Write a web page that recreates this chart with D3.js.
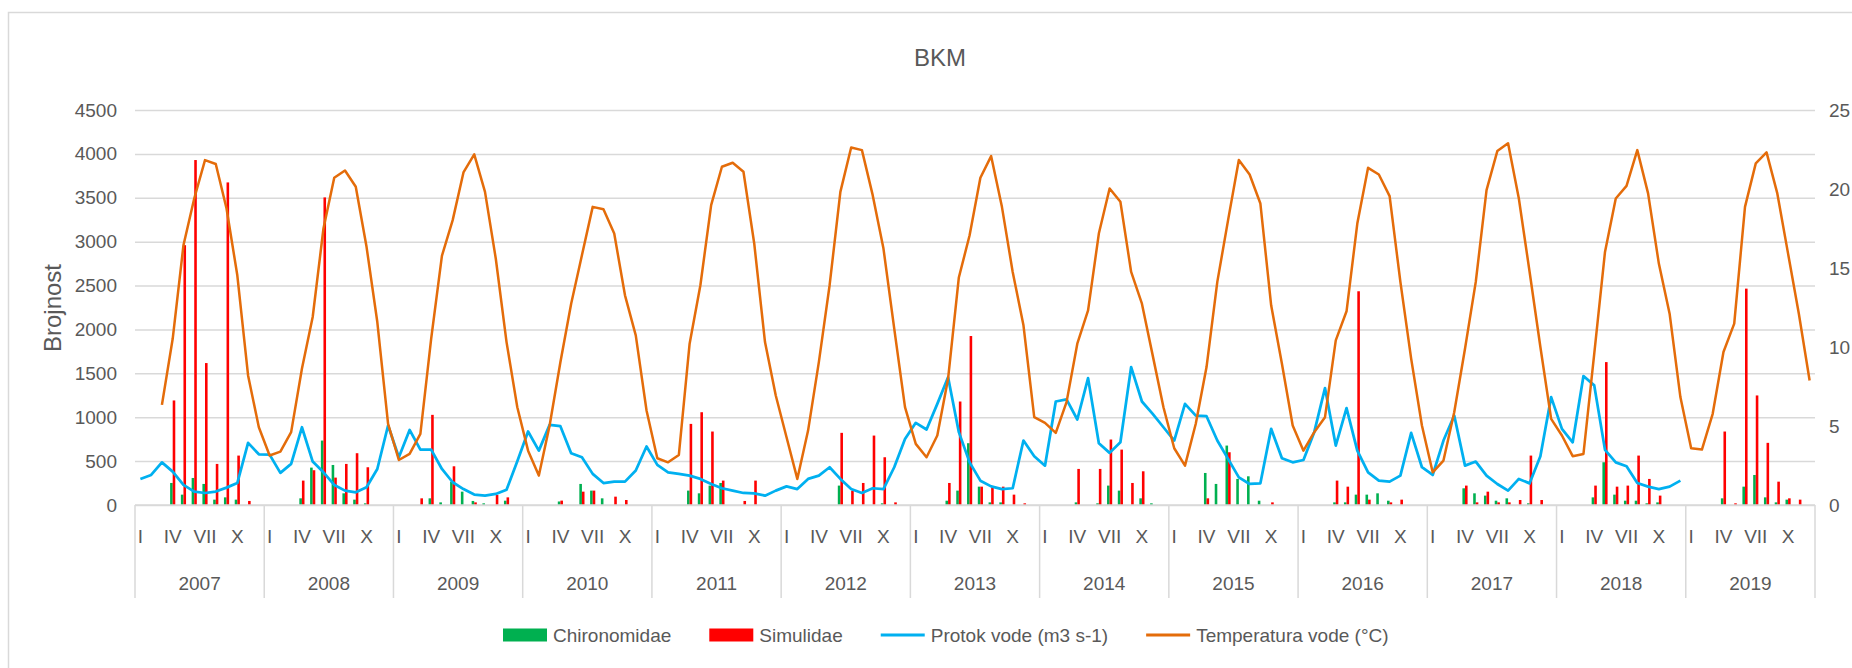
<!DOCTYPE html>
<html>
<head>
<meta charset="utf-8">
<script src="https://cdn.jsdelivr.net/npm/d3@7"></script>
<style>
  body { margin: 0; background: #fff; }
  svg { display: block; font-family: "Liberation Sans", Arial, sans-serif; }
  .axis text { fill: #595959; font-size: 19px; }
  .grid line { stroke: #d9d9d9; stroke-width: 1.5px; }
</style>
</head>
<body>
<svg id="chart" width="1852" height="668"></svg>
<script>
// godine i oznake mjeseci
var years = [2007, 2008, 2009, 2010, 2011, 2012, 2013, 2014, 2015, 2016, 2017, 2018, 2019];
var monthLabels = ["I", "II", "III", "IV", "V", "VI", "VII", "VIII", "IX", "X", "XI", "XII"];
var leftTicks = [0, 500, 1000, 1500, 2000, 2500, 3000, 3500, 4000, 4500];
var rightTicks = [0, 5, 10, 15, 20, 25];

// brojnost po mjesecima (I - XII), godina po red
var chironomidae = [
  0, 0, 0, 251, 118, 308, 240, 61, 87, 61, 0, 0,
  0, 0, 0, 76, 426, 734, 456, 133, 61, 19, 0, 0,
  0, 0, 0, 76, 30, 266, 152, 46, 19, 0, 49, 0,
  0, 0, 0, 40, 0, 240, 164, 76, 0, 0, 0, 0,
  0, 0, 0, 164, 133, 221, 251, 0, 0, 0, 0, 0,
  0, 0, 0, 0, 0, 221, 0, 0, 0, 19, 0, 0,
  0, 0, 0, 49, 164, 704, 209, 30, 30, 0, 0, 0,
  0, 0, 0, 30, 0, 19, 221, 164, 0, 76, 19, 0,
  0, 0, 0, 365, 240, 677, 297, 327, 49, 0, 0, 0,
  0, 0, 0, 30, 30, 118, 118, 133, 49, 0, 0, 0,
  0, 0, 0, 190, 133, 107, 49, 76, 0, 19, 0, 0,
  0, 0, 0, 87, 487, 118, 49, 49, 19, 30, 0, 0,
  0, 0, 0, 76, 0, 209, 342, 87, 30, 61, 0, 0
];

var simulidae = [
  0, 0, 0, 1191, 2960, 3930, 1617, 468, 3675, 563, 46, 0,
  0, 0, 0, 278, 396, 3504, 312, 468, 590, 430, 0, 0,
  0, 0, 76, 1027, 0, 441, 0, 30, 0, 114, 87, 0,
  0, 0, 0, 50, 0, 152, 164, 0, 95, 57, 0, 0,
  0, 0, 0, 924, 1057, 837, 278, 0, 46, 278, 0, 0,
  0, 0, 0, 0, 0, 822, 164, 251, 791, 544, 30, 0,
  0, 0, 0, 251, 1179, 1925, 209, 202, 209, 118, 19, 0,
  0, 0, 0, 411, 0, 411, 746, 631, 251, 384, 0, 0,
  0, 0, 0, 76, 0, 601, 0, 0, 0, 30, 0, 0,
  0, 0, 0, 278, 209, 2435, 61, 0, 30, 61, 0, 0,
  0, 0, 0, 221, 30, 152, 30, 30, 57, 563, 57, 0,
  0, 0, 0, 221, 1628, 209, 221, 563, 297, 107, 0, 0,
  0, 0, 0, 837, 19, 2465, 1248, 708, 266, 76, 61, 0
];

// protok vode (m3 s-1)
var protok = [
  1.65, 1.90, 2.70, 2.11, 1.27, 0.85, 0.76, 0.85, 1.10, 1.39, 3.93, 3.21,
  3.19, 2.03, 2.60, 4.92, 2.75, 2.07, 1.27, 0.91, 0.80, 1.12, 2.28, 5.03,
  3.02, 4.75, 3.51, 3.51, 2.28, 1.44, 1.01, 0.66, 0.59, 0.70, 0.97, 2.77,
  4.65, 3.44, 5.07, 4.99, 3.28, 3.02, 1.97, 1.39, 1.48, 1.48, 2.18, 3.70,
  2.54, 2.07, 1.97, 1.86, 1.65, 1.33, 1.06, 0.91, 0.76, 0.74, 0.59, 0.91,
  1.18, 1.01, 1.65, 1.86, 2.39, 1.65, 1.01, 0.76, 1.06, 1.01, 2.39, 4.18,
  5.20, 4.78, 6.40, 8.09, 4.61, 2.70, 1.54, 1.18, 1.01, 1.06, 4.08, 3.09,
  2.49, 6.55, 6.68, 5.41, 8.03, 3.91, 3.30, 3.97, 8.73, 6.55, 5.77, 4.92,
  4.08, 6.40, 5.66, 5.62, 4.08, 2.92, 1.75, 1.33, 1.37, 4.82, 2.96, 2.70,
  2.85, 4.61, 7.40, 3.76, 6.13, 3.44, 2.07, 1.54, 1.48, 1.86, 4.56, 2.39,
  1.90, 4.08, 5.66, 2.49, 2.75, 1.86, 1.33, 0.91, 1.65, 1.37, 3.09, 6.83,
  4.82, 3.97, 8.16, 7.57, 3.49, 2.70, 2.45, 1.39, 1.16, 1.01, 1.16, 1.54,
  null, null, null, null, null, null, null, null, null, null, null, null
];

// temperatura vode (°C)
var temperatura = [
  null, null, 6.34, 10.52, 16.44, 19.40, 21.83, 21.58, 18.77, 14.54, 8.20, 4.92,
  3.13, 3.38, 4.61, 8.62, 11.90, 17.50, 20.71, 21.17, 20.14, 16.34, 11.58, 5.14,
  2.85, 3.23, 4.50, 10.52, 15.77, 18.03, 21.05, 22.19, 19.82, 15.60, 10.31, 6.19,
  3.44, 1.86, 5.03, 9.04, 12.74, 15.81, 18.87, 18.72, 17.18, 13.27, 10.74, 5.98,
  2.96, 2.70, 3.17, 10.21, 13.91, 18.98, 21.41, 21.66, 21.09, 16.55, 10.31, 6.93,
  4.29, 1.65, 4.71, 9.04, 13.91, 19.82, 22.63, 22.46, 19.61, 16.23, 11.16, 6.19,
  3.87, 3.02, 4.40, 7.99, 14.40, 17.07, 20.71, 22.08, 18.87, 14.75, 11.37, 5.56,
  5.20, 4.56, 6.51, 10.21, 12.32, 17.18, 20.03, 19.19, 14.75, 12.74, 9.47, 6.19,
  3.59, 2.49, 5.14, 8.73, 14.12, 18.03, 21.83, 20.92, 19.08, 12.64, 8.94, 5.03,
  3.44, 4.61, 5.56, 10.42, 12.26, 17.81, 21.34, 20.92, 19.55, 14.12, 9.26, 5.03,
  2.07, 2.81, 5.87, 9.89, 14.12, 19.93, 22.40, 22.89, 19.40, 14.75, 10.00, 5.45,
  4.40, 3.09, 3.23, 9.57, 16.02, 19.40, 20.20, 22.46, 19.72, 15.28, 12.11, 6.83,
  3.59, 3.51, 5.77, 9.68, 11.48, 18.87, 21.62, 22.32, 19.72, 15.91, 12.11, 7.88
];

var series = [
  {name: "Chironomidae", color: "#00B050", type: "bar"},
  {name: "Simulidae", color: "#FF0000", type: "bar"},
  {name: "Protok vode (m3 s-1)", color: "#00B0F0", type: "line"},
  {name: "Temperatura vode (°C)", color: "#E46C0A", type: "line"}
];

var svg = d3.select("#chart"),
    margin = {top: 110, right: 37, bottom: 163, left: 135},
    width = +svg.attr("width") - margin.left - margin.right,
    height = +svg.attr("height") - margin.top - margin.bottom;

// okvir grafikona
svg.append("rect")
    .attr("x", 8.5)
    .attr("y", 12.5)
    .attr("width", 1900)
    .attr("height", 700)
    .attr("fill", "none")
    .attr("stroke", "#d9d9d9")
    .attr("stroke-width", 1.5);

svg.append("text")
    .attr("x", 940)
    .attr("y", 66)
    .attr("text-anchor", "middle")
    .attr("fill", "#595959")
    .style("font-size", "24px")
    .text("BKM");

var keys = [];
years.forEach(function(y) {
  monthLabels.forEach(function(m, i) { keys.push(y + "-" + i); });
});

var rows = keys.map(function(k, i) {
  return {key: k, month: i % 12, chir: chironomidae[i], simu: simulidae[i],
          flow: protok[i], temp: temperatura[i]};
});

var x = d3.scaleBand().domain(keys).range([0, width])
    .paddingInner(0.52).paddingOuter(0.26);
var xSub = d3.scaleBand().domain(["chir", "simu"]).range([0, x.bandwidth()]);
var xYear = d3.scaleBand().domain(years).range([0, width]);

var yLeft = d3.scaleLinear().domain([0, 4500]).range([height, 0]);
var yRight = d3.scaleLinear().domain([0, 25]).range([height, 0]);

var g = svg.append("g")
    .attr("transform", "translate(" + margin.left + "," + margin.top + ")");

// mreza
g.append("g")
    .attr("class", "grid")
    .call(d3.axisLeft(yLeft).tickValues(leftTicks).tickSize(-width).tickFormat(""))
    .call(function(s) { s.select(".domain").remove(); });

// lijeva os
g.append("g")
    .attr("class", "axis")
    .call(d3.axisLeft(yLeft).tickValues(leftTicks).tickSize(0).tickPadding(18)
      .tickFormat(d3.format("d")))
    .call(function(s) { s.select(".domain").remove(); });

// desna os
g.append("g")
    .attr("class", "axis")
    .attr("transform", "translate(" + width + ",0)")
    .call(d3.axisRight(yRight).tickValues(rightTicks).tickSize(0).tickPadding(14)
      .tickFormat(d3.format("d")))
    .call(function(s) { s.select(".domain").remove(); });

g.append("text")
    .attr("transform", "translate(" + (53 - margin.left) + "," + (308 - margin.top) + ") rotate(-90)")
    .attr("text-anchor", "middle")
    .attr("dy", "0.35em")
    .attr("fill", "#595959")
    .style("font-size", "24px")
    .text("Brojnost");

// stupci
var bars = g.append("g");
bars.selectAll("rect.chir")
    .data(rows.filter(function(d) { return d.chir > 0; }))
  .enter().append("rect")
    .attr("class", "chir")
    .attr("x", function(d) { return x(d.key) + xSub("chir"); })
    .attr("y", function(d) { return yLeft(d.chir); })
    .attr("width", xSub.bandwidth())
    .attr("height", function(d) { return height - yLeft(d.chir); })
    .attr("fill", series[0].color);

bars.selectAll("rect.simu")
    .data(rows.filter(function(d) { return d.simu > 0; }))
  .enter().append("rect")
    .attr("class", "simu")
    .attr("x", function(d) { return x(d.key) + xSub("simu"); })
    .attr("y", function(d) { return yLeft(d.simu); })
    .attr("width", xSub.bandwidth())
    .attr("height", function(d) { return height - yLeft(d.simu); })
    .attr("fill", series[1].color);

// x os: mjeseci i godine
var xAxisG = g.append("g")
    .attr("class", "axis")
    .attr("transform", "translate(0," + height + ")");

xAxisG.append("line")
    .attr("x1", 0)
    .attr("x2", width)
    .attr("stroke", "#d9d9d9")
    .attr("stroke-width", 1.5);

xAxisG.append("g")
    .call(d3.axisBottom(x)
      .tickValues(keys.filter(function(k, i) { return i % 3 === 0; }))
      .tickFormat(function(k) { return monthLabels[+k.split("-")[1]]; })
      .tickSize(0).tickPadding(25))
    .call(function(s) { s.select(".domain").remove(); });

xAxisG.append("g")
    .call(d3.axisBottom(xYear).tickSize(0).tickPadding(72))
    .call(function(s) { s.select(".domain").remove(); });

xAxisG.selectAll("line.sep")
    .data(years.concat(["end"]))
  .enter().append("line")
    .attr("class", "sep")
    .attr("x1", function(d) { return d === "end" ? width : xYear(d); })
    .attr("x2", function(d) { return d === "end" ? width : xYear(d); })
    .attr("y1", 0)
    .attr("y2", 93)
    .attr("stroke", "#d9d9d9")
    .attr("stroke-width", 1.5);

// linije
var flowLine = d3.line()
    .defined(function(d) { return d.flow != null; })
    .x(function(d) { return x(d.key) + x.bandwidth() / 2; })
    .y(function(d) { return yRight(d.flow); });

var tempLine = d3.line()
    .defined(function(d) { return d.temp != null; })
    .x(function(d) { return x(d.key) + x.bandwidth() / 2; })
    .y(function(d) { return yRight(d.temp); });

g.append("path")
    .datum(rows)
    .attr("fill", "none")
    .attr("stroke", series[2].color)
    .attr("stroke-width", 2.75)
    .attr("stroke-linejoin", "round")
    .attr("d", flowLine);

g.append("path")
    .datum(rows)
    .attr("fill", "none")
    .attr("stroke", series[3].color)
    .attr("stroke-width", 2.5)
    .attr("stroke-linejoin", "round")
    .attr("d", tempLine);

// legenda
var legend = svg.append("g")
    .attr("transform", "translate(503,635)");

var lx = 0;
series.forEach(function(s) {
  var item = legend.append("g").attr("transform", "translate(" + lx + ",0)");
  if (s.type === "bar") {
    item.append("rect")
        .attr("x", 0).attr("y", -6.5)
        .attr("width", 44).attr("height", 13)
        .attr("fill", s.color);
  } else {
    item.append("line")
        .attr("x1", 0).attr("x2", 44)
        .attr("stroke", s.color)
        .attr("stroke-width", 3);
  }
  var t = item.append("text")
      .attr("x", 50)
      .attr("dy", "0.35em")
      .attr("fill", "#595959")
      .style("font-size", "19px")
      .text(s.name);
  lx += 50 + t.node().getComputedTextLength() + 38;
});
</script>
</body>
</html>
